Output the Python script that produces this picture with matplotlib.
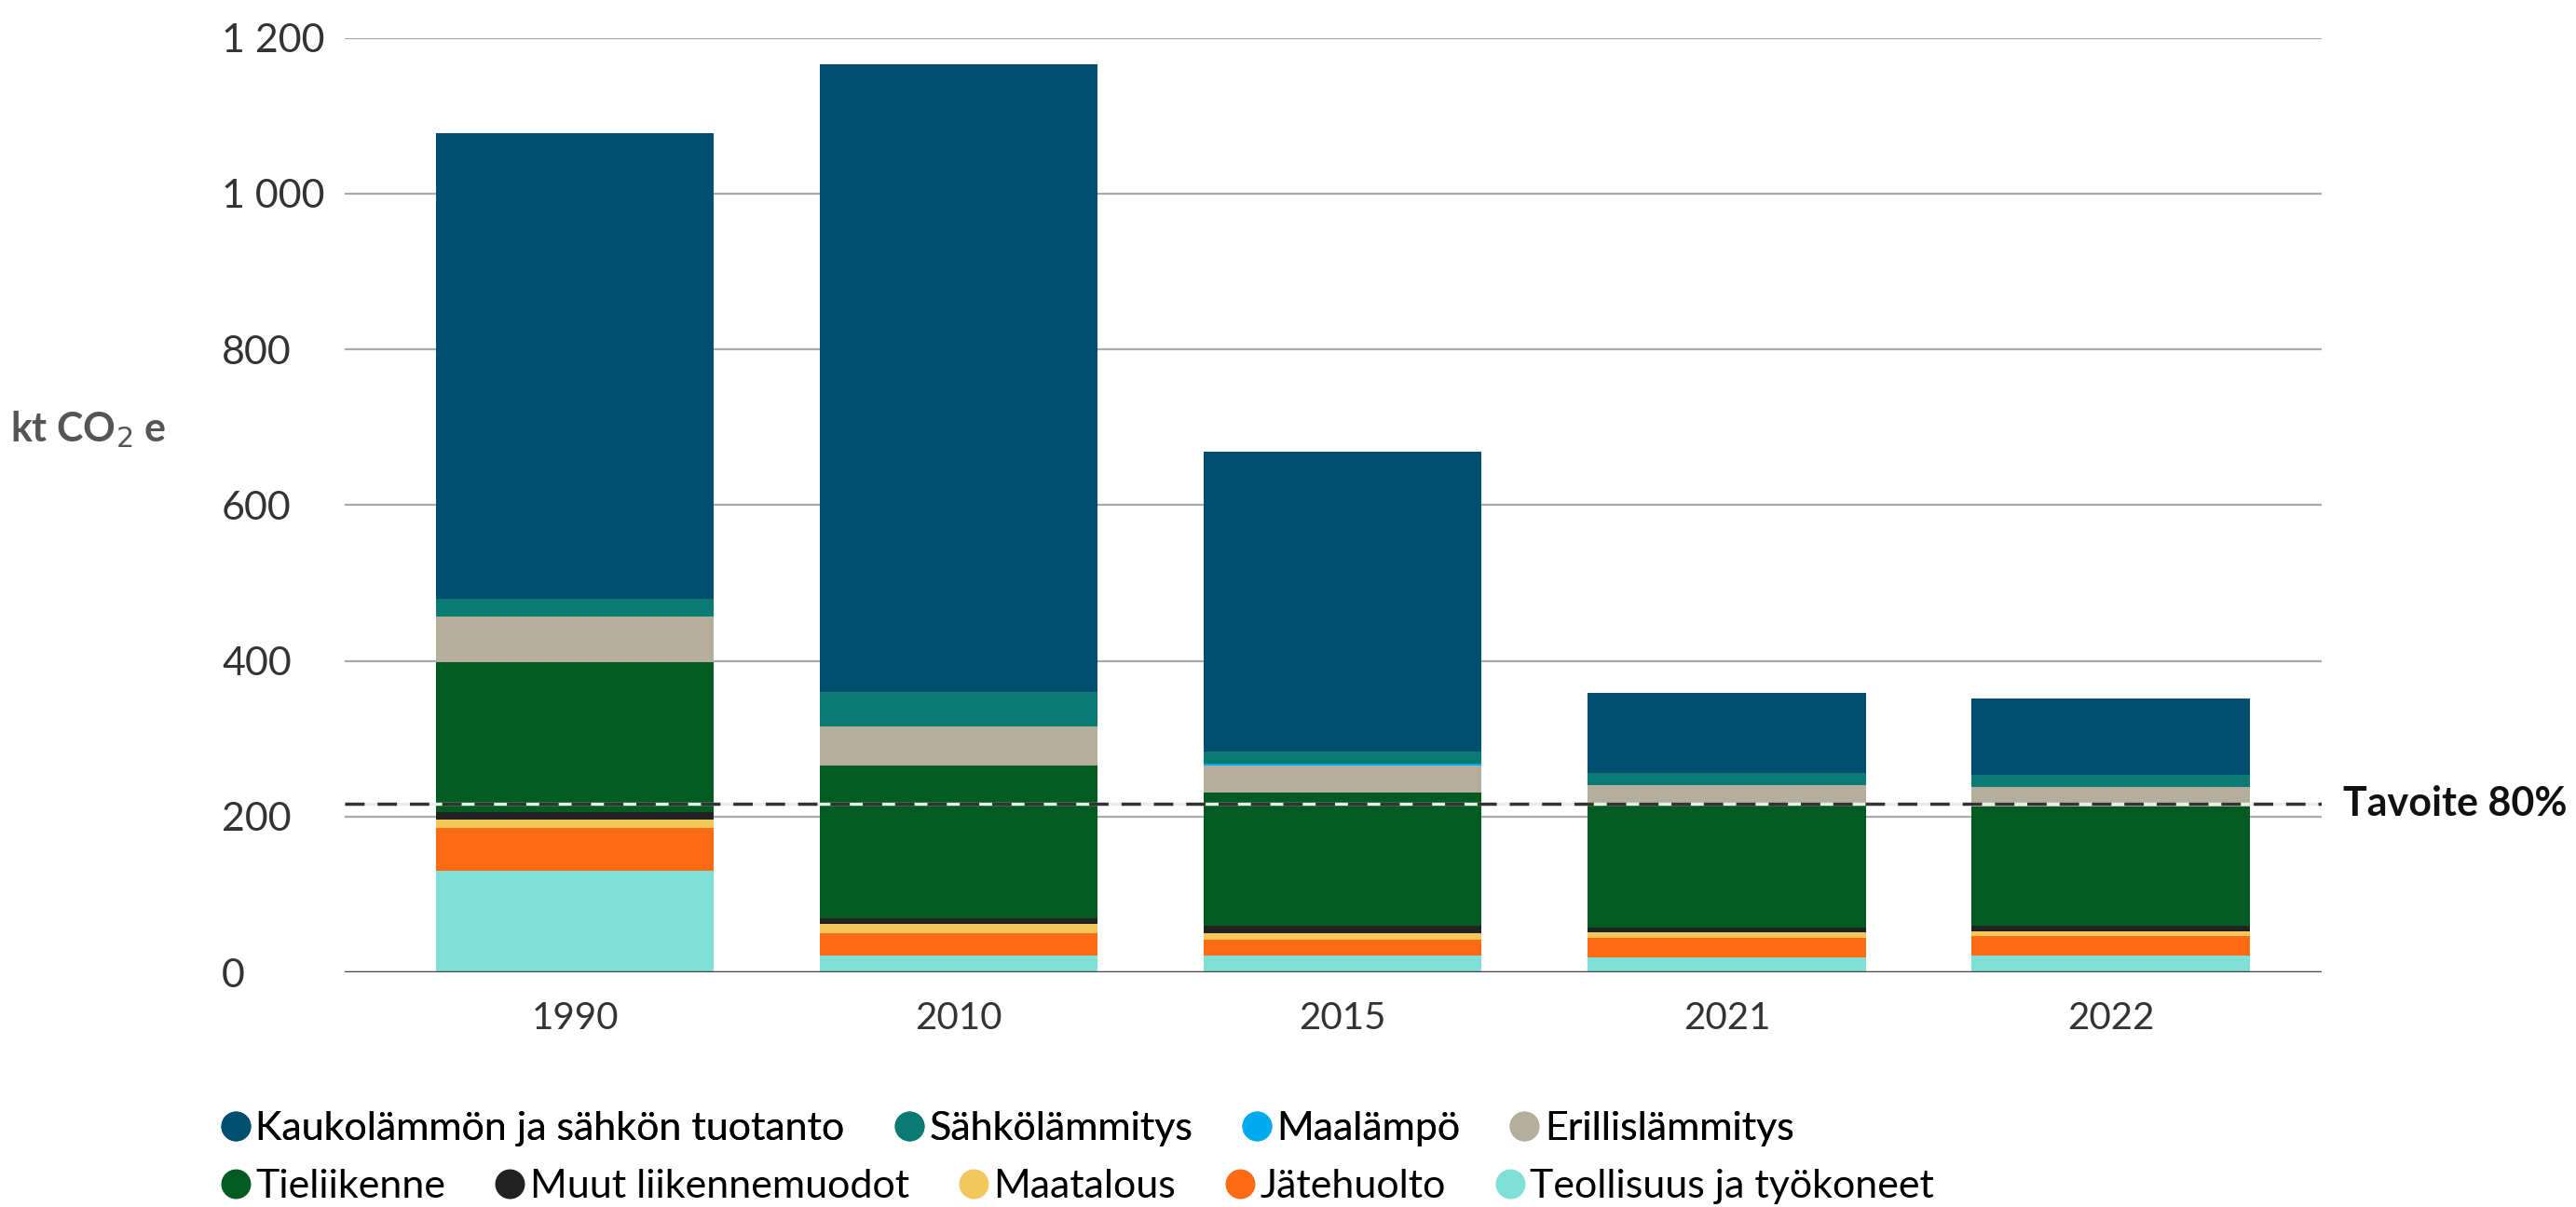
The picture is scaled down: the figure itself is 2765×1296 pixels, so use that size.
import matplotlib.pyplot as plt
import numpy as np
from matplotlib.lines import Line2D

plt.rcParams['font.family'] = ['Lato', 'DejaVu Sans']

# data (kt CO2e)
years = ['1990', '2010', '2015', '2021', '2022']
labels = ['Kaukolämmön ja sähkön tuotanto', 'Sähkölämmitys', 'Maalämpö', 'Erillislämmitys',
          'Tieliikenne', 'Muut liikennemuodot', 'Maatalous', 'Jätehuolto', 'Teollisuus ja työkoneet']
kauko = [598, 806, 385, 102, 99]
sahko = [23, 44, 15.5, 15.5, 15.5]
maalampo = [0, 0, 3.5, 0, 0]
erillis = [59, 50, 34, 27, 24]
tieliikenne = [192, 197, 171, 157, 154]
muut = [10, 6.5, 9.5, 6, 7]
maatalous = [11, 12, 9, 7, 6]
jatehuolto = [54, 28.5, 19.5, 25, 24.5]
teollisuus = [131, 22, 22, 19, 22]
tavoite = 216
ytick_labels = ['0', '200', '400', '600', '800', '1 000', '1 200']

colors = ['#004f70', '#0b7a72', '#00aaee', '#b5ae9c', '#035b22',
          '#222222', '#f2c75c', '#ff6b14', '#7ee0d6']
series = [kauko, sahko, maalampo, erillis, tieliikenne, muut, maatalous, jatehuolto, teollisuus]

fig = plt.figure(figsize=(27.65, 12.96), dpi=100)
ax = fig.add_axes([0.1338, 0.1944, 0.7675, 0.7743])

x = np.arange(len(years))
bottom = np.zeros(len(years))
# pinotaan alhaalta ylös: legendan käänteinen järjestys
for vals, col in zip(series[::-1], colors[::-1]):
    ax.bar(x, vals, bottom=bottom, width=0.724, color=col, zorder=2)
    bottom += np.array(vals)

ax.set_xlim(-0.6, 4.55)
ax.set_ylim(0, 1200)
ax.set_yticks(range(0, 1201, 200))
ax.set_yticklabels(ytick_labels, ha='left', fontsize=31, color='#333333')
ax.tick_params(axis='y', length=0, pad=95)
ax.set_xticks(x)
ax.set_xticklabels(years, fontsize=29, color='#333333')
ax.tick_params(axis='x', length=0, pad=22)
for s in ax.spines.values():
    s.set_visible(False)
for v in range(200, 1201, 200):
    ax.axhline(v, color='#aaaaaa', lw=1.6, zorder=1)
ax.axhline(0, color='#444444', lw=2.5, zorder=3)

# tavoiteviiva
ax.axhline(tavoite, color='#e6efe6', lw=2.5, zorder=4)
ax.axhline(tavoite, color='#333333', lw=2.5, ls=(0, (6, 4)), zorder=5)
ax.text(1.011, tavoite, 'Tavoite 80%', transform=ax.get_yaxis_transform(),
        fontsize=31, fontweight='bold', color='#111111', va='center', ha='left', clip_on=False)

fig.text(0.004, 0.644, 'kt CO$_2$ e', fontsize=31, fontweight='bold', color='#555555',
         va='center', ha='left')

handles = [Line2D([0], [0], marker='o', ls='', markersize=22, color=c) for c in colors]
leg1 = fig.legend(handles[:4], labels[:4], loc='center left', bbox_to_anchor=(0.079, 0.065),
                  ncol=4, frameon=False, fontsize=31, handletextpad=0.1, columnspacing=1.2,
                  handlelength=0.8, borderaxespad=0)
fig.add_artist(leg1)
fig.legend(handles[4:], labels[4:], loc='center left', bbox_to_anchor=(0.079, 0.017),
           ncol=5, frameon=False, fontsize=31, handletextpad=0.1, columnspacing=1.2,
           handlelength=0.8, borderaxespad=0)

fig.savefig('out.png', dpi=100)
